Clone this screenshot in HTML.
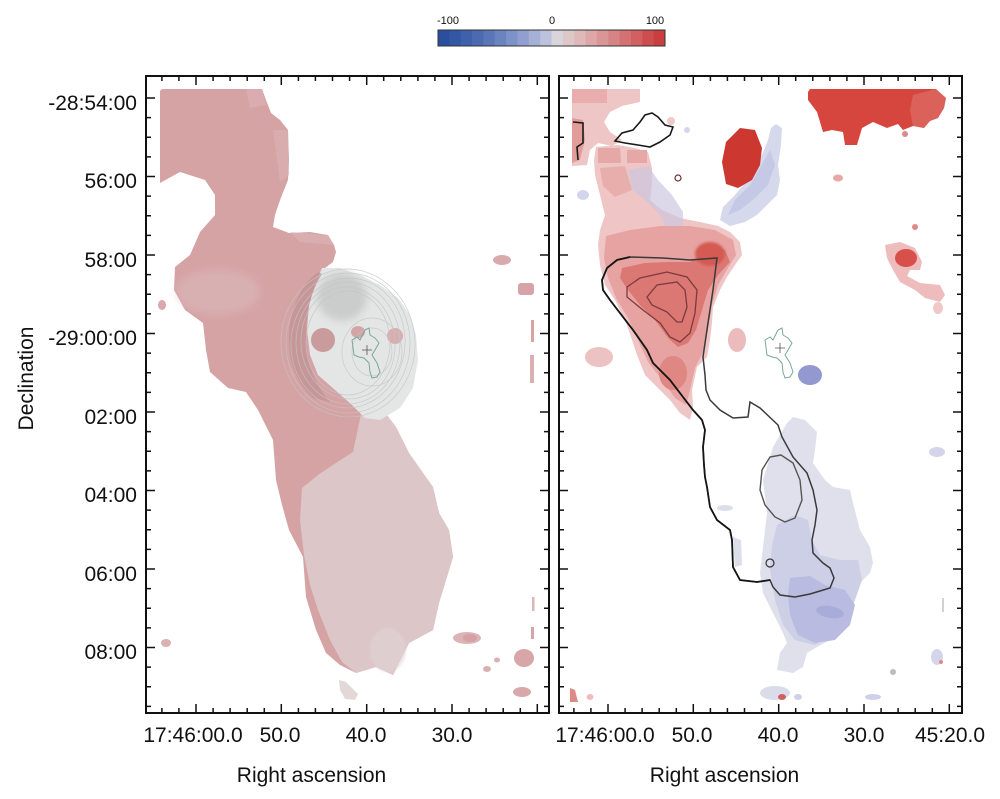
<!DOCTYPE html>
<html><head><meta charset="utf-8"><style>
html,body{margin:0;padding:0;background:#fff;}
svg{display:block;}
text{font-family:"Liberation Sans",Arial,sans-serif;fill:#111;}
</style></head><body>
<svg width="1000" height="799" viewBox="0 0 1000 799" xmlns="http://www.w3.org/2000/svg">
<defs>
<clipPath id="clipL"><rect x="146" y="76" width="403" height="637"/></clipPath>
<clipPath id="clipR"><rect x="559" y="76" width="403" height="637"/></clipPath>
<filter id="blur2" x="-20%" y="-20%" width="140%" height="140%"><feGaussianBlur stdDeviation="1.2"/></filter>
<filter id="blur4" x="-30%" y="-30%" width="160%" height="160%"><feGaussianBlur stdDeviation="4"/></filter>
<path id="xt" d="M161.9 0v-5M178.9 0v-5M213.1 0v-5M230.1 0v-5M247.2 0v-5M264.3 0v-5M298.4 0v-5M315.4 0v-5M332.5 0v-5M349.6 0v-5M383.7 0v-5M400.8 0v-5M417.9 0v-5M434.9 0v-5M469.1 0v-5M486.1 0v-5M503.2 0v-5M520.3 0v-5M196 0v-9M281.3 0v-9M366.7 0v-9M452 0v-9M537.3 0v-9" stroke="#111" stroke-width="1.5" fill="none"/>
<path id="yt" d="M0 98h9M0 176.5h9M0 255h9M0 333.5h9M0 412h9M0 490.5h9M0 569h9M0 647.5h9M0 117.6h5M0 137.3h5M0 156.9h5M0 196.1h5M0 215.8h5M0 235.4h5M0 274.6h5M0 294.3h5M0 313.9h5M0 353.1h5M0 372.8h5M0 392.4h5M0 431.6h5M0 451.3h5M0 470.9h5M0 510.1h5M0 529.8h5M0 549.4h5M0 588.6h5M0 608.3h5M0 627.9h5M0 667.1h5M0 686.8h5M0 706.4h5" stroke="#111" stroke-width="1.5" fill="none"/>
</defs>

<!-- ===== Colorbar ===== -->
<g>
<rect x="438.0" y="30" width="11.9" height="16" fill="#2a4f9e"/>
<rect x="449.4" y="30" width="11.9" height="16" fill="#3457a4"/>
<rect x="460.7" y="30" width="11.9" height="16" fill="#3f60aa"/>
<rect x="472.1" y="30" width="11.9" height="16" fill="#4b6ab0"/>
<rect x="483.4" y="30" width="11.9" height="16" fill="#5a76b8"/>
<rect x="494.8" y="30" width="11.9" height="16" fill="#6b84c0"/>
<rect x="506.1" y="30" width="11.9" height="16" fill="#7d92c8"/>
<rect x="517.5" y="30" width="11.9" height="16" fill="#909fcf"/>
<rect x="528.8" y="30" width="11.9" height="16" fill="#a4b0d6"/>
<rect x="540.2" y="30" width="11.9" height="16" fill="#bcc2dc"/>
<rect x="551.5" y="30" width="11.9" height="16" fill="#d8d6dc"/>
<rect x="562.9" y="30" width="11.9" height="16" fill="#dcc8c9"/>
<rect x="574.2" y="30" width="11.9" height="16" fill="#dfb8b9"/>
<rect x="585.6" y="30" width="11.9" height="16" fill="#dda6a7"/>
<rect x="596.9" y="30" width="11.9" height="16" fill="#da9596"/>
<rect x="608.3" y="30" width="11.9" height="16" fill="#d78485"/>
<rect x="619.6" y="30" width="11.9" height="16" fill="#d47273"/>
<rect x="631.0" y="30" width="11.9" height="16" fill="#d16060"/>
<rect x="642.3" y="30" width="11.9" height="16" fill="#ce4e4e"/>
<rect x="653.7" y="30" width="11.3" height="16" fill="#c93e3e"/>
<rect x="438" y="30" width="227" height="16" fill="none" stroke="#333" stroke-width="1"/>
<text x="448" y="24" font-size="11" text-anchor="middle">-100</text>
<text x="552" y="24" font-size="11" text-anchor="middle">0</text>
<text x="655" y="24" font-size="11" text-anchor="middle">100</text>
</g>

<!-- ===== LEFT PANEL DATA ===== -->
<g clip-path="url(#clipL)">
<path fill="#d6a3a5" d="M160,92 Q160,89 163,89 L262,89 L266,100 L271,113 L280,120 L288,130 L289,160 L288,180 L282,195 L279,203 L275,215 L273,227 L289,233 L310,232 L328,235 L334,245 L336,252 L333,262 L325,268 L330,300 L335,350 L345,395 L360,405 L383,410 L396,427 L409,453 L423,473 L433,487 L439,513 L449,530 L453,557 L446,580 L439,603 L433,630 L409,643 L399,663 L393,675 L376,667 L356,673 L340,665 L326,653 L316,630 L306,597 L303,557 L289,530 L282,505 L276,480 L273,440 L258,410 L246,392 L228,388 L210,372 L206,350 L203,323 L185,310 L174,290 L175,267 L190,255 L200,232 L215,215 L215,195 L205,180 L180,172 L160,183 Z"/>
<ellipse cx="218" cy="292" rx="42" ry="22" fill="#dcbdbf" opacity="0.5" filter="url(#blur4)"/>
<path fill="#dbb2b4" opacity="0.6" d="M273,130 L288,130 L289,175 L280,182 Z"/>
<path fill="#dcb3b5" opacity="0.6" d="M246,89 L262,89 L266,105 L250,108 Z"/>
<path fill="#dbb6b8" opacity="0.6" d="M290,232 L328,235 L334,245 L300,242 Z"/>
<path fill="#dcc6c8" d="M363,405 L383,410 L396,427 L409,453 L423,473 L433,487 L439,513 L449,530 L453,557 L446,580 L439,603 L433,630 L409,643 L399,663 L393,675 L376,667 L356,673 L342,662 L330,640 L318,610 L310,585 L304,555 L300,520 L302,488 L318,475 L336,463 L353,452 Z"/>
<ellipse cx="388" cy="650" rx="18" ry="22" fill="#e0d4d6" opacity="0.6" filter="url(#blur2)"/>
<!-- gray ring region -->
<path fill="#e4e6e6" d="M322,268 L340,268 L360,275 L380,285 L398,298 L410,315 L416,335 L418,360 L413,388 L400,408 L380,420 L365,418 L352,405 L335,390 L318,375 L310,355 L307,330 L309,305 L315,285 Z"/>
<ellipse cx="342" cy="297" rx="25" ry="24" fill="#cbcccc" filter="url(#blur4)"/>
<path fill="#c09294" opacity="0.75" d="M318,272 C300,285 290,310 289,335 C288,360 295,382 313,398 L330,402 C314,384 306,360 306,335 C306,310 312,290 322,274 Z"/>
<ellipse cx="323" cy="340" rx="12" ry="12" fill="#c99b9d"/>
<ellipse cx="358" cy="332" rx="7" ry="6" fill="#d4a5a7"/>
<ellipse cx="395" cy="336" rx="8" ry="8" fill="#d8aeb0"/>
<g fill="none" stroke="#c4c4c4" stroke-width="0.7" opacity="0.85">
<ellipse cx="348" cy="343" rx="42" ry="52"/>
<ellipse cx="348" cy="343" rx="47" ry="56" transform="rotate(-6 348 343)"/>
<ellipse cx="348" cy="343" rx="52" ry="61"/>
<ellipse cx="348" cy="343" rx="57" ry="65" transform="rotate(5 348 343)"/>
<ellipse cx="348" cy="343" rx="62" ry="70"/>
<ellipse cx="348" cy="343" rx="67" ry="74" transform="rotate(-4 348 343)"/>
<ellipse cx="372" cy="352" rx="20" ry="24"/>
<ellipse cx="372" cy="352" rx="30" ry="34"/>
</g>
<polyline fill="none" stroke="#7aa898" stroke-width="1" points="352,340 357,337 360,340 365,330 369,328 370,335 375,338 379,343 375,350 372,355 377,363 380,372 377,377 372,378 370,372 369,363 364,358 359,357 354,355 352,340"/>
<path d="M367,345 v10 M362,350 h10" stroke="#555" stroke-width="0.8"/>
<!-- small blobs -->
<ellipse cx="502" cy="260" rx="9" ry="5" fill="#d9aaac"/>
<rect x="518" y="283" width="16" height="12" rx="3" fill="#d6a4a6"/>
<ellipse cx="162" cy="305" rx="4" ry="5" fill="#d8a8aa"/>
<rect x="531" y="320" width="3" height="22" fill="#d6a4a6"/>
<rect x="530" y="355" width="4" height="28" fill="#dbb0b2"/>
<ellipse cx="166" cy="643" rx="5" ry="4" fill="#dcb0b2"/>
<ellipse cx="467" cy="638" rx="14" ry="6" fill="#dcb4b6"/>
<ellipse cx="470" cy="638" rx="7" ry="4" fill="#d4a2a4"/>
<ellipse cx="524" cy="658" rx="10" ry="9" fill="#d8a6a8"/>
<ellipse cx="497" cy="660" rx="3" ry="2.5" fill="#dab0b2"/>
<ellipse cx="487" cy="669" rx="4" ry="3" fill="#dab0b2"/>
<ellipse cx="522" cy="692" rx="9" ry="5" fill="#d8a8aa"/>
<path fill="#e2d8d8" d="M339,680 L346,682 L358,694 L355,700 L345,699 L340,690 Z"/>
<rect x="532" y="597" width="2.5" height="14" fill="#dcb4b6"/>
<rect x="531" y="627" width="3" height="12" fill="#d6a4a6"/>
</g>

<!-- ===== RIGHT PANEL DATA ===== -->
<g clip-path="url(#clipR)">
<!-- top-right red -->
<path fill="#d6463e" d="M808,92 L810,89 L936,89 L946,98 L944,108 L938,118 L930,121 L924,128 L913,126 L903,130 L898,124 L887,128 L873,122 L862,128 L857,145 L845,145 L843,132 L832,130 L823,132 L817,112 L808,100 Z"/>
<path fill="#e07a72" opacity="0.55" d="M913,95 L936,89 L946,98 L944,108 L938,118 L930,121 L924,128 L913,126 L910,110 Z"/>
<ellipse cx="905" cy="134" rx="3" ry="3" fill="#e08a86"/>
<!-- red blob + blue streak -->
<path fill="#d6d8ec" d="M776,124 L782,128 L781,145 L778,165 L780,180 L777,195 L767,205 L757,215 L745,222 L730,226 L720,220 L723,207 L735,195 L745,183 L755,170 L762,155 L768,140 L771,128 Z"/>
<path fill="#c2c6e5" opacity="0.8" d="M770,150 L775,165 L768,185 L755,198 L740,210 L728,215 L735,200 L750,185 L760,168 Z"/>
<path fill="#cc3830" d="M740,128 L755,130 L762,148 L760,165 L752,180 L738,188 L726,184 L722,162 L726,142 Z"/>
<!-- upper-left cluster -->
<path fill="#eec6c5" d="M572,89 L640,89 L640,102 L622,106 L610,112 L604,122 L610,132 L622,140 L612,146 L598,143 L590,150 L587,165 L572,166 Z"/>
<path fill="#e8adac" d="M572,89 L607,89 L607,103 L572,103 Z"/>
<path fill="#e29c9a" d="M572,118 L583,120 L585,140 L580,160 L572,163 Z"/>
<path fill="#efc6c5" d="M596,147 L618,145 L635,148 L648,152 L652,168 L652,185 L650,200 L662,210 L680,218 L700,222 L718,226 L730,232 L740,242 L742,255 L735,265 L727,277 L720,290 L713,307 L712,323 L710,340 L707,357 L697,367 L692,390 L693,407 L690,420 L680,413 L670,400 L657,387 L645,375 L637,355 L627,325 L615,300 L605,285 L600,265 L598,245 L600,230 L605,215 L600,195 L595,175 L594,160 Z"/>
<path fill="#e6a8a6" d="M598,148 L620,148 L621,163 L598,163 Z"/>
<path fill="#e6a8a6" d="M627,150 L647,150 L647,163 L627,163 Z"/>
<path fill="#e8aeac" d="M600,168 L625,166 L632,190 L615,197 L603,186 Z"/>
<path fill="#cdc6e0" opacity="0.7" d="M628,170 L648,166 L658,180 L672,195 L683,212 L683,233 L668,232 L660,215 L645,200 L632,190 Z"/>
<path fill="#e6a3a1" d="M606,236 L630,230 L660,226 L690,226 L715,230 L733,240 L736,255 L728,268 L718,285 L712,305 L708,330 L703,352 L695,368 L690,390 L686,405 L675,398 L662,380 L648,362 L638,340 L628,318 L616,298 L608,278 L604,258 Z"/>
<path fill="#dc7874" d="M622,268 L645,263 L668,262 L690,262 L702,256 L712,248 L725,250 L730,262 L718,275 L708,290 L702,310 L696,330 L688,343 L678,347 L668,338 L655,320 L640,305 L628,290 L620,278 Z"/>
<ellipse cx="710" cy="254" rx="15" ry="12" fill="#d45a52" filter="url(#blur2)"/>
<ellipse cx="673" cy="373" rx="14" ry="17" fill="#de8783"/>
<ellipse cx="583" cy="195" rx="6" ry="5" fill="#d3d5ec"/>
<ellipse cx="687" cy="130" rx="3" ry="3" fill="#d4d6ee"/>
<ellipse cx="671" cy="121" rx="4" ry="4" fill="#efc8c8"/>
<ellipse cx="737" cy="340" rx="9" ry="12" fill="#ecbcbc"/>
<ellipse cx="599" cy="357" rx="14" ry="10" fill="#ecc2c2"/>
<!-- right side red -->
<path fill="#eebcbc" d="M885,245 L900,242 L915,248 L922,262 L920,270 L910,270 L907,276 L920,283 L940,285 L945,295 L940,302 L925,298 L915,290 L900,282 L893,270 L887,258 Z"/>
<ellipse cx="906" cy="258" rx="11" ry="9" fill="#d8504a"/>
<ellipse cx="938" cy="308" rx="5" ry="6" fill="#f0c8c8"/>
<ellipse cx="915" cy="227" rx="3" ry="3" fill="#e08a86"/>
<ellipse cx="838" cy="178" rx="5" ry="3.5" fill="#e8a8a6"/>
<!-- lower blue -->
<path fill="#dfe0ec" d="M787,423 L793,417 L805,420 L817,432 L815,450 L813,463 L825,480 L833,487 L850,490 L853,503 L860,530 L870,547 L873,563 L870,573 L860,583 L853,597 L850,613 L840,627 L830,640 L817,647 L807,653 L803,667 L793,673 L777,670 L780,653 L787,643 L783,633 L773,613 L763,593 L760,573 L763,547 L767,513 L763,480 L773,447 Z"/>
<path fill="#cdcfe6" d="M777,525 L795,515 L808,520 L812,540 L820,555 L840,560 L858,560 L862,580 L855,600 L848,620 L835,635 L815,645 L795,640 L783,625 L775,600 L770,570 L772,545 Z"/>
<path fill="#b9bce0" d="M790,578 L810,576 L825,585 L845,590 L855,605 L850,625 L835,640 L815,643 L798,635 L790,615 L788,595 Z"/>
<ellipse cx="830" cy="612" rx="14" ry="6" fill="#a8acd8" transform="rotate(10 830 612)"/>
<ellipse cx="810" cy="375" rx="12" ry="10" fill="#9298d0"/>
<path fill="#dcdeec" d="M733,537 L741,540 L742,565 L735,567 Z"/>
<ellipse cx="725" cy="508" rx="8" ry="3" fill="#dcdeec"/>
<!-- bottom small bits -->
<path fill="#dc8a86" d="M570,688 L575,690 L578,702 L570,702 Z"/>
<ellipse cx="590" cy="697" rx="3.5" ry="3" fill="#eebcbc"/>
<ellipse cx="775" cy="693" rx="15" ry="7" fill="#dadcea"/>
<ellipse cx="782" cy="697" rx="4" ry="3" fill="#d06060"/>
<ellipse cx="798" cy="697" rx="4" ry="3" fill="#cfd1ea"/>
<ellipse cx="873" cy="697" rx="8" ry="3" fill="#cfd0ea"/>
<ellipse cx="937" cy="452" rx="8" ry="5" fill="#d4d5ea"/>
<ellipse cx="937" cy="657" rx="6" ry="8" fill="#d4d5ea"/>
<ellipse cx="941" cy="662" rx="2" ry="2" fill="#e08a86"/>
<ellipse cx="893" cy="672" rx="3" ry="3" fill="#bdbdbd"/>
<rect x="942" y="598" width="2" height="14" fill="#d0d0d8"/>
<!-- contours -->
<path fill="none" stroke="#3a3a3a" stroke-width="1.5" d="M630,257 L617,260 L607,268 L602,280 L603,290 L610,300 L623,317 L633,330 L647,350 L653,363 L670,380 L683,397 L693,410 L702,420 L705,430 L703,447 L704,465 L705,477 L707,487 L710,507 L717,520 L730,530 L732,540 L733,567 L740,580 L757,582 L770,580 L773,587 L780,595 L795,597 L810,594 L830,588 L834,578 L830,568 L823,563 L813,553 L812,540 L815,525 L817,510 L813,490 L807,473 L793,457 L782,437 L778,425 L760,408 L750,402 L748,417 L733,418 L720,410 L710,400 L706,390 L705,375 L703,357 L708,323 L713,290 L717,258 L690,260 L663,258 Z"/>
<path fill="none" stroke="#151515" stroke-width="1.8" d="M630,257 L617,260 L607,268 L602,280 L603,290 L610,300 L623,317 L633,330 L647,350 L653,363 L670,380 L683,397 L693,410 L702,420 L705,430 L703,447 L704,465 L705,477 L707,487 L710,507 L717,520 L730,530 L732,540 L733,567 L740,580 L757,582 L770,580"/>
<path fill="none" stroke="#7a3c3c" stroke-width="1.3" d="M627,287 L640,278 L667,272 L687,277 L697,290 L695,313 L690,333 L680,342 L670,337 L660,323 L643,310 L627,297 Z"/>
<path fill="none" stroke="#7a3c3c" stroke-width="1.3" d="M647,297 L657,285 L677,282 L685,290 L687,307 L682,322 L677,322 L667,312 L652,305 Z"/>
<path fill="none" stroke="#555" stroke-width="1.4" d="M781,455 L770,457 L762,470 L760,490 L765,505 L775,517 L785,522 L795,518 L802,500 L800,480 L793,463 Z"/>
<circle cx="770" cy="563" r="4" fill="none" stroke="#333" stroke-width="1.2"/>
<path fill="none" stroke="#1a1a1a" stroke-width="1.6" d="M615,141 L622,133 L633,130 L640,122 L645,115 L652,113 L658,117 L665,125 L673,127 L670,135 L660,142 L650,147 L638,145 L625,143 Z"/>
<path fill="none" stroke="#1a1a1a" stroke-width="1.6" d="M573,122 L583,123 L583,143 L577,147 L578,160"/>
<circle cx="678" cy="178" r="3" fill="none" stroke="#6a3030" stroke-width="1.2"/>
<polyline fill="none" stroke="#7aa898" stroke-width="1" points="765,340 770,337 773,340 778,330 782,328 783,335 788,338 792,343 788,350 785,355 790,363 793,372 790,377 785,378 783,372 782,363 777,358 772,357 767,355 765,340"/>
<path d="M780,343 v10 M775,348 h10" stroke="#555" stroke-width="0.8"/>
</g>

<!-- ===== Frames and ticks ===== -->
<rect x="146" y="76" width="403" height="637" fill="none" stroke="#111" stroke-width="2"/>
<rect x="559" y="76" width="403" height="637" fill="none" stroke="#111" stroke-width="2"/>
<use href="#xt" transform="translate(0,713)"/>
<use href="#xt" transform="translate(0,76) scale(1,-1)"/>
<use href="#xt" transform="translate(412,713)"/>
<use href="#xt" transform="translate(412,76) scale(1,-1)"/>
<use href="#yt" transform="translate(146,0)"/>
<use href="#yt" transform="translate(549,0) scale(-1,1)"/>
<use href="#yt" transform="translate(559,0)"/>
<use href="#yt" transform="translate(962,0) scale(-1,1)"/>

<!-- ===== Labels ===== -->
<g font-size="21" text-anchor="end">
<text x="137" y="110">-28:54:00</text>
<text x="137" y="188">56:00</text>
<text x="137" y="267">58:00</text>
<text x="137" y="345">-29:00:00</text>
<text x="137" y="424">02:00</text>
<text x="137" y="502">04:00</text>
<text x="137" y="581">06:00</text>
<text x="137" y="659">08:00</text>
</g>
<text transform="translate(33,378.5) rotate(-90)" font-size="21" text-anchor="middle">Declination</text>
<g font-size="21" text-anchor="middle">
<text x="193" y="742">17:46:00.0</text>
<text x="280" y="742">50.0</text>
<text x="366" y="742">40.0</text>
<text x="452" y="742">30.0</text>
<text x="605" y="742">17:46:00.0</text>
<text x="692" y="742">50.0</text>
<text x="778" y="742">40.0</text>
<text x="864" y="742">30.0</text>
<text x="950" y="742">45:20.0</text>
<text x="311.5" y="782">Right ascension</text>
<text x="724.5" y="782">Right ascension</text>
</g>
</svg>
</body></html>
